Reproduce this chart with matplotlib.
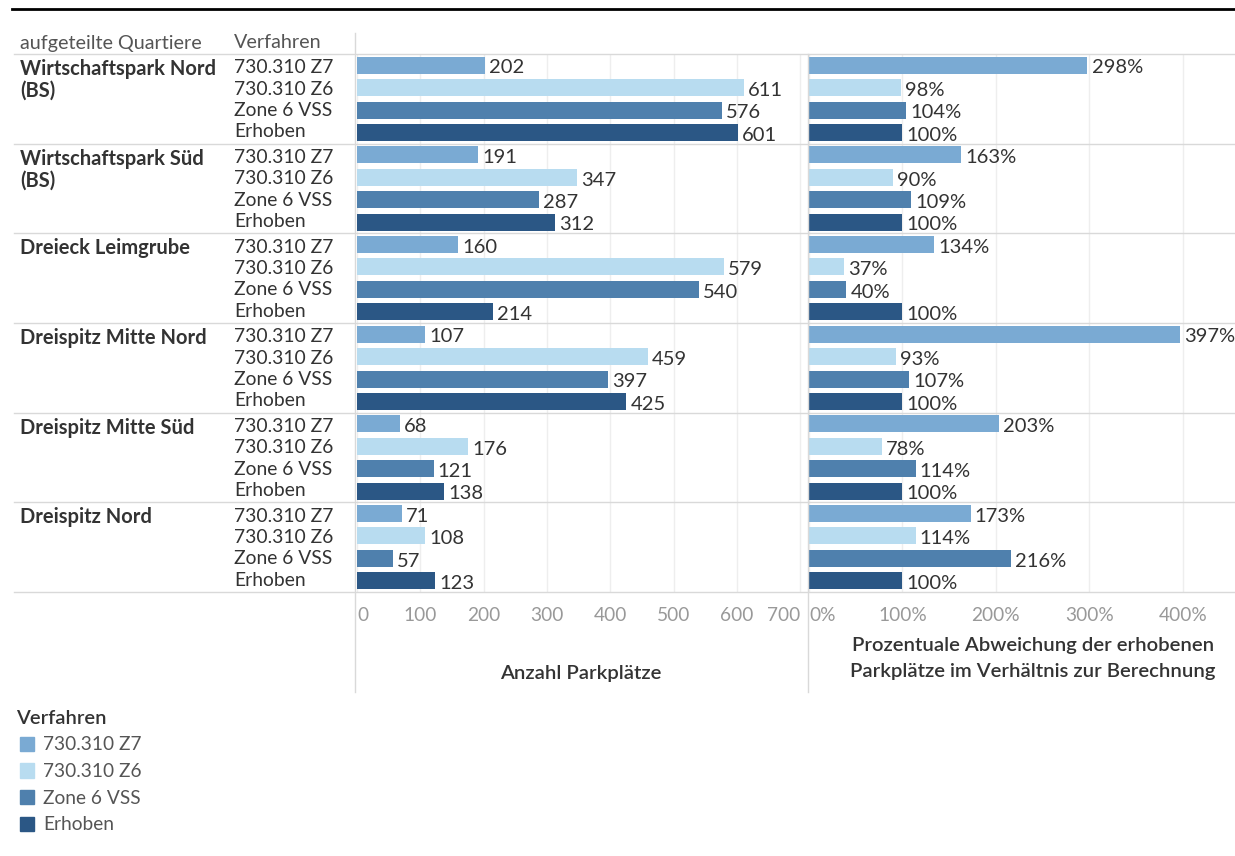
import numpy as np
import matplotlib.pyplot as plt
from matplotlib.lines import Line2D
from matplotlib.patches import Rectangle

plt.rcParams['font.family'] = ['Lato', 'DejaVu Sans']

# Daten
quartiere = ['Wirtschaftspark Nord\n(BS)', 'Wirtschaftspark Süd\n(BS)', 'Dreieck Leimgrube',
             'Dreispitz Mitte Nord', 'Dreispitz Mitte Süd', 'Dreispitz Nord']
verfahren = ['730.310 Z7', '730.310 Z6', 'Zone 6 VSS', 'Erhoben']
farben = ['#7aaad3', '#b8dcf0', '#4f80ad', '#2b5785']

z7 = [202, 191, 160, 107, 68, 71]
z6 = [611, 347, 579, 459, 176, 108]
vss = [576, 287, 540, 397, 121, 57]
erhoben = [601, 312, 214, 425, 138, 123]

pz7 = [298, 163, 134, 397, 203, 173]
pz6 = [98, 90, 37, 93, 78, 114]
pvss = [104, 109, 40, 107, 114, 216]
perh = [100, 100, 100, 100, 100, 100]

ticks_anzahl = [0, 100, 200, 300, 400, 500, 600, 700]
ticks_proz = [0, 100, 200, 300, 400]

W, H = 1235, 856
fig = plt.figure(figsize=(W / 100, H / 100), dpi=100)


def fx(x):
    return x / W


def fy(y):
    return 1 - y / H


def hline(y, x0, x1, color='#d9d9d9', lw=1.0):
    fig.add_artist(Line2D([fx(x0), fx(x1)], [fy(y), fy(y)], color=color, lw=lw))


def vline(x, y0, y1, color='#d9d9d9', lw=1.0):
    fig.add_artist(Line2D([fx(x), fx(x)], [fy(y0), fy(y1)], color=color, lw=lw))


top, bottom = 54, 592
grp_h = (bottom - top) / 6

werte = [z7, z6, vss, erhoben]
proz = [pz7, pz6, pvss, perh]

ax1 = fig.add_axes([fx(357), fy(bottom), fx(806) - fx(357), fy(top) - fy(bottom)])
ax2 = fig.add_axes([fx(809), fy(bottom), fx(1235) - fx(809), fy(top) - fy(bottom)])

for ax, daten, xmax, ticks, fmt in [(ax1, werte, 709, ticks_anzahl, '{}'),
                                    (ax2, proz, 456, ticks_proz, '{}%')]:
    for g in range(6):
        for k in range(4):
            pos = g * 4 + k
            v = daten[k][g]
            ax.barh(pos, v, height=0.76, color=farben[k], zorder=3)
            ax.annotate(fmt.format(v), (v, pos), xytext=(3, -2), textcoords='offset points',
                        ha='left', va='center', fontsize=14.5, color='#333333')
    ax.set_xlim(0, xmax)
    ax.set_ylim(23.5, -0.5)
    ax.set_yticks([])
    ax.set_xticks(ticks)
    ax.set_xticklabels([fmt.format(t) for t in ticks])
    ax.tick_params(axis='x', length=0, pad=11, labelsize=13.8, labelcolor='#999999')
    labs = ax.get_xticklabels()
    labs[0].set_ha('left')
    if ax is ax1:
        labs[-1].set_ha('right')
    ax.grid(axis='x', color='#eeeeee', lw=1, zorder=0)
    for s in ax.spines.values():
        s.set_visible(False)
    ax.patch.set_alpha(0)

# Linien
fig.add_artist(Line2D([fx(12), fx(1235)], [fy(9), fy(9)], color='black', lw=2))
for g in range(7):
    hline(top + g * grp_h, 14, 1235)
vline(355, 33, 692)
vline(807.5, 54, 692)

# Kopfzeile
fig.text(fx(20), fy(43), 'aufgeteilte Quartiere', fontsize=14.2, color='#555555', va='center')
fig.text(fx(234), fy(43), 'Verfahren', fontsize=14.2, color='#555555', va='center')

# Beschriftungen links
for g in range(6):
    y0 = top + g * grp_h
    for i, zeile in enumerate(quartiere[g].split('\n')):
        fig.text(fx(20), fy(y0 + 15 + i * 22), zeile, fontsize=14.5, fontweight='bold',
                 color='#333333', va='center')
    mitte = y0 + grp_h / 2
    for k in range(4):
        fig.text(fx(234), fy(mitte + (k - 1.5) * 21.3 + 1), verfahren[k], fontsize=13.9,
                 color='#333333', va='center')

# Achsentitel
fig.text(fx(581), fy(673), 'Anzahl Parkplätze', fontsize=14.6, fontweight='semibold',
         color='#333333', ha='center', va='center')
fig.text(fx(1033), fy(646), 'Prozentuale Abweichung der erhobenen',
         fontsize=14.6, fontweight='semibold', color='#333333', ha='center', va='center')
fig.text(fx(1033), fy(672), 'Parkplätze im Verhältnis zur Berechnung',
         fontsize=14.6, fontweight='semibold', color='#333333', ha='center', va='center')

# Legende
fig.text(fx(16), fy(719), 'Verfahren', fontsize=14.5, fontweight='semibold', color='#333333', va='center')
for k in range(4):
    yy = 744 + k * 26.5
    fig.add_artist(Rectangle((fx(20), fy(yy + 7)), fx(34) - fx(20), fy(yy - 7) - fy(yy + 7),
                             color=farben[k]))
    fig.text(fx(43), fy(yy + 1), verfahren[k], fontsize=13.8, color='#555555', va='center')

fig.savefig('out.png', dpi=100)
